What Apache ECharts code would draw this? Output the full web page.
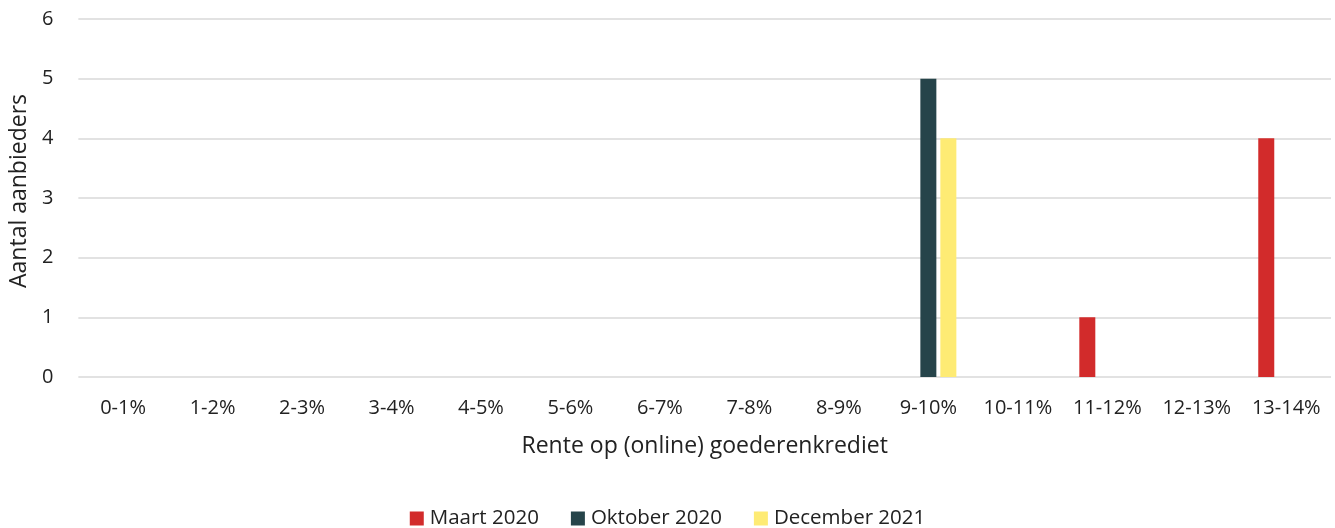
<!DOCTYPE html>
<html>
<head>
<meta charset="utf-8">
<script src="https://cdn.jsdelivr.net/npm/echarts@6/dist/echarts.min.js"></script>
<style>html,body{margin:0;padding:0;background:#fff}#c{width:1335px;height:528px}</style>
</head>
<body>
<div id="c"></div>
<script>
const categories = ['0-1%','1-2%','2-3%','3-4%','4-5%','5-6%','6-7%','7-8%','8-9%','9-10%','10-11%','11-12%','12-13%','13-14%'];
const maart2020 = [0,0,0,0,0,0,0,0,0,0,0,1,0,4];
const oktober2020 = [0,0,0,0,0,0,0,0,0,5,0,0,0,0];
const december2021 = [0,0,0,0,0,0,0,0,0,4,0,0,0,0];
const yTicks = [0,1,2,3,4,5,6];

const font = 'Open Sans, Noto Sans, sans-serif';
const chart = echarts.init(document.getElementById('c'));
chart.setOption({
  animation: false,
  textStyle: { fontFamily: font },
  grid: { left: 78, right: 4, top: 19, bottom: 151, containLabel: false },
  legend: {
    top: 503, left: 'center', itemWidth: 14, itemHeight: 14, itemGap: 32,
    icon: 'rect',
    textStyle: { fontSize: 20.5, color: '#222', fontFamily: font, padding: [0,0,0,1] },
    data: ['Maart 2020','Oktober 2020','December 2021']
  },
  xAxis: {
    type: 'category', data: categories,
    axisLine: { show: false }, axisTick: { show: false },
    axisLabel: { fontSize: 20, color: '#222', margin: 21, interval: 0 },
    name: 'Rente op (online) goederenkrediet', nameLocation: 'middle', nameGap: 58,
    nameTextStyle: { fontSize: 23, color: '#222' }
  },
  yAxis: {
    type: 'value', min: yTicks[0], max: yTicks[yTicks.length-1], interval: 1,
    axisLine: { show: false }, axisTick: { show: false },
    axisLabel: { fontSize: 20, color: '#222', margin: 25 },
    splitLine: { lineStyle: { color: '#D9D9D9', width: 1.5 } },
    name: 'Aantal aanbieders', nameLocation: 'middle', nameGap: 47, nameRotate: 90,
    nameTextStyle: { fontSize: 23, color: '#222', padding: [0, 0, 0, 14] }
  },
  series: [
    { name: 'Maart 2020', type: 'bar', data: maart2020, barWidth: 16, barGap: '25%', itemStyle: { color: '#D22B2B' } },
    { name: 'Oktober 2020', type: 'bar', data: oktober2020, barWidth: 16, barGap: '25%', itemStyle: { color: '#26444A' } },
    { name: 'December 2021', type: 'bar', data: december2021, barWidth: 16, barGap: '25%', itemStyle: { color: '#FEEB74' } }
  ]
});
</script>
</body>
</html>
